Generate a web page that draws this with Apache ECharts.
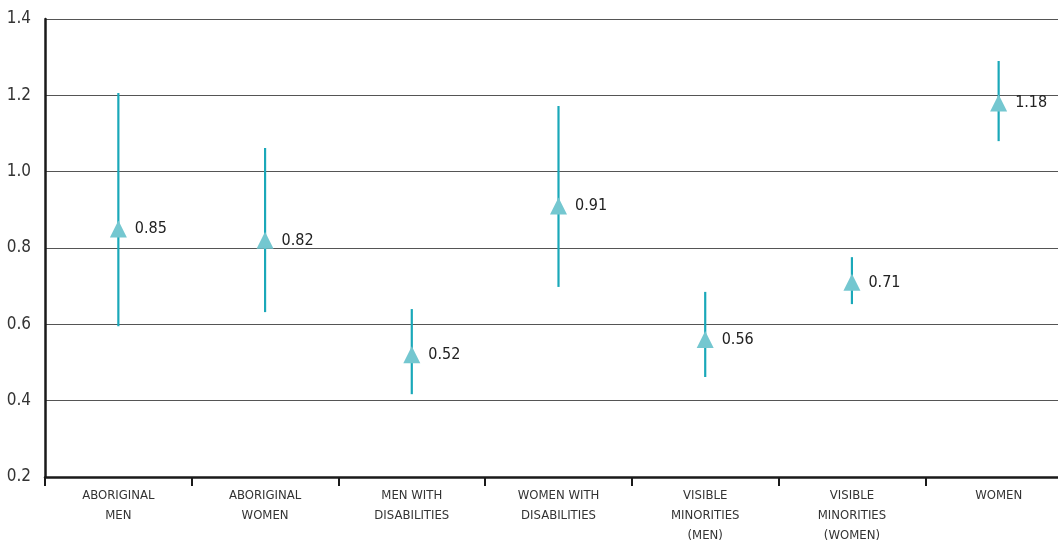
<!DOCTYPE html>
<html>
<head>
<meta charset="utf-8">
<script src="https://cdn.jsdelivr.net/npm/echarts@6/dist/echarts.min.js"></script>
<style>
  html, body { margin: 0; padding: 0; background: #fff; }
  #chart { width: 1058px; height: 541px; }
</style>
</head>
<body>
<div id="chart"></div>
<script>
const categories = [
  'ABORIGINAL\nMEN',
  'ABORIGINAL\nWOMEN',
  'MEN WITH\nDISABILITIES',
  'WOMEN WITH\nDISABILITIES',
  'VISIBLE\nMINORITIES\n(MEN)',
  'VISIBLE\nMINORITIES\n(WOMEN)',
  'WOMEN'
];
const estimates = [0.85, 0.82, 0.52, 0.91, 0.56, 0.71, 1.18];
const lowerBounds = [0.595, 0.632, 0.417, 0.698, 0.462, 0.653, 1.08];
const upperBounds = [1.206, 1.062, 0.640, 1.172, 0.685, 0.776, 1.29];
const yTicks = { min: 0.2, max: 1.4, step: 0.2 };

const FONT = '"Liberation Sans Narrow", "DejaVu Sans Condensed", "Roboto", sans-serif';

const chart = echarts.init(document.getElementById('chart'));

const barData = categories.map((c, i) => [i, lowerBounds[i], upperBounds[i]]);
const pointData = categories.map((c, i) => [i, estimates[i]]);

const option = {
  animation: false,
  backgroundColor: '#fff',
  // plot runs a little past the right edge of the picture, as in the source
  grid: { left: 45, top: 19, width: 1027, height: 458, outerBoundsMode: 'none', containLabel: false },
  xAxis: {
    type: 'category',
    data: categories,
    boundaryGap: true,
    axisLine: { lineStyle: { color: '#1a1a1a', width: 2.5 } },
    axisTick: { show: true, length: 9, lineStyle: { color: '#1a1a1a', width: 2 } },
    axisLabel: {
      color: '#333',
      fontFamily: FONT,
      fontSize: 13,
      lineHeight: 20,
      margin: 9,
      interval: 0
    },
    splitLine: { show: false }
  },
  yAxis: {
    type: 'value',
    min: yTicks.min,
    max: yTicks.max,
    interval: yTicks.step,
    axisLine: { show: true, lineStyle: { color: '#1a1a1a', width: 2.5 } },
    axisTick: { show: false },
    axisLabel: {
      color: '#333',
      fontFamily: FONT,
      fontSize: 17,
      margin: 14,
      formatter: v => v.toFixed(1)
    },
    splitLine: { show: true, lineStyle: { color: '#555', width: 1 } }
  },
  series: [
    {
      type: 'custom',
      data: barData,
      encode: { x: 0, y: [1, 2] },
      renderItem: (params, api) => {
        const lo = api.coord([api.value(0), api.value(1)]);
        const hi = api.coord([api.value(0), api.value(2)]);
        return {
          type: 'line',
          shape: { x1: lo[0], y1: lo[1], x2: hi[0], y2: hi[1] },
          style: { stroke: '#1aa8b9', lineWidth: 2.2 }
        };
      },
      z: 2
    },
    {
      type: 'scatter',
      data: pointData,
      symbol: 'triangle',
      symbolSize: [17, 17],
      itemStyle: { color: '#74c7d0', opacity: 1 },
      label: {
        show: true,
        position: 'right',
        distance: 8,
        color: '#222',
        fontFamily: FONT,
        fontSize: 16,
        formatter: p => p.value[1].toFixed(2)
      },
      z: 3
    }
  ]
};

chart.setOption(option);
</script>
</body>
</html>
